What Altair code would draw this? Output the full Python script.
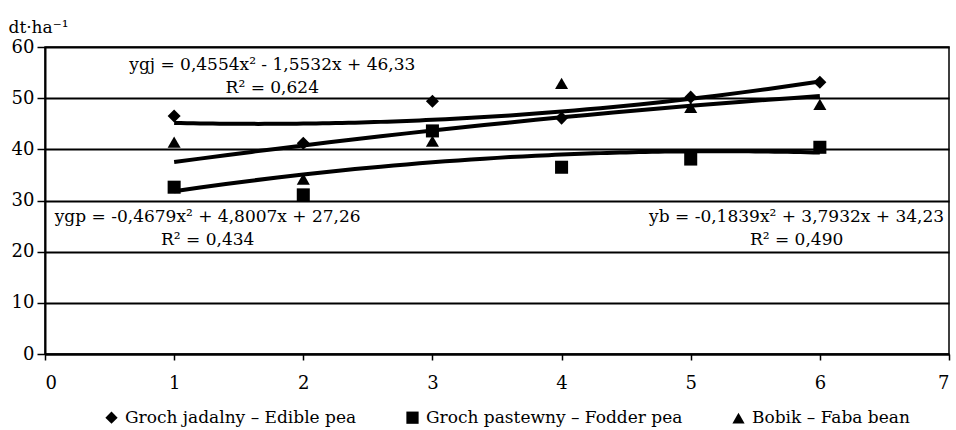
import altair as alt
import pandas as pd

# ---- data ----
years = [1, 2, 3, 4, 5, 6]
series_names = ["Groch jadalny – Edible pea", "Groch pastewny – Fodder pea", "Bobik – Faba bean"]
edible_pea = [46.5, 41.2, 49.4, 46.1, 50.2, 53.1]
fodder_pea = [32.6, 31.1, 43.6, 36.5, 38.1, 40.4]
faba_bean = [41.4, 34.2, 41.6, 52.9, 48.2, 48.8]

ann_text = [
    "ygj = 0,4554x² - 1,5532x + 46,33\nR² = 0,624",
    "ygp = -0,4679x² + 4,8007x + 27,26\nR² = 0,434",
    "yb = -0,1839x² + 3,7932x + 34,23\nR² = 0,490",
]
ann_x = [1.76, 1.26, 5.82]
ann_y = [56.4, 26.8, 26.8]

x_ticks = [0, 1, 2, 3, 4, 5, 6, 7]
y_ticks = [0, 10, 20, 30, 40, 50, 60]

rows = []
for name, vals in zip(series_names, [edible_pea, fodder_pea, faba_bean]):
    for xv, yv in zip(years, vals):
        rows.append({"series": name, "x": xv, "y": yv})
df = pd.DataFrame(rows)
ann = pd.DataFrame({"text": ann_text, "x": ann_x, "y": ann_y})

FONT = "DejaVu Serif"
TXT = 17

xscale = alt.Scale(domain=[0, 7], nice=False)
yscale = alt.Scale(domain=[0, 60], nice=False)

xaxis = alt.Axis(values=x_ticks, grid=False, title=None, tickSize=6, labelPadding=14,
                 domainColor="black", domainWidth=2, tickColor="black", tickWidth=1.5,
                 labelFont=FONT, labelFontSize=18, labelColor="black", format="d")
yaxis = alt.Axis(values=y_ticks, grid=True, gridColor="black", gridWidth=2,
                 title="dt·ha⁻¹", titleAngle=0, titleAlign="left", titleBaseline="alphabetic",
                 titleX=-37, titleY=-15, titleFont=FONT, titleFontSize=TXT,
                 titleFontWeight="normal", titleColor="black",
                 tickSize=8, labelPadding=3, domainColor="black", domainWidth=2,
                 tickColor="black", tickWidth=1.5, labelFont=FONT, labelFontSize=18,
                 labelColor="black", format="d")

base = alt.Chart(df)

lines = base.transform_regression(
    "x", "y", method="poly", order=2, groupby=["series"], extent=[1, 6]
).mark_line(color="black", strokeWidth=4).encode(
    x=alt.X("x:Q", scale=xscale, axis=xaxis),
    y=alt.Y("y:Q", scale=yscale, axis=yaxis),
    detail="series:N",
)

points = base.mark_point(filled=True, opacity=1, color="black", size=170).encode(
    x=alt.X("x:Q", scale=xscale),
    y=alt.Y("y:Q", scale=yscale),
    shape=alt.Shape(
        "series:N",
        scale=alt.Scale(domain=series_names, range=["diamond", "square", "triangle-up"]),
        legend=alt.Legend(
            title=None, orient="none", direction="horizontal", legendX=58, legendY=362,
            labelFont=FONT, labelFontSize=TXT, labelColor="black", labelOffset=5,
            labelLimit=500, columnPadding=46, symbolFillColor="black",
            symbolStrokeColor="black", symbolSize=150, padding=0,
        ),
    ),
)

labels = alt.Chart(ann).mark_text(
    font=FONT, fontSize=TXT, color="black", align="center", baseline="middle",
    lineBreak="\n", lineHeight=23,
).encode(
    x=alt.X("x:Q", scale=xscale),
    y=alt.Y("y:Q", scale=yscale),
    text="text:N",
)

chart = alt.layer(lines, points, labels).properties(
    width=904, height=307,
    autosize=alt.AutoSizeParams(type="none"),
    padding={"left": 45, "top": 47, "right": 7, "bottom": 76},
    background="white",
).configure_view(stroke="black", strokeWidth=1.5)

chart.save("out.html", embed_options={"renderer": "svg", "actions": False})
